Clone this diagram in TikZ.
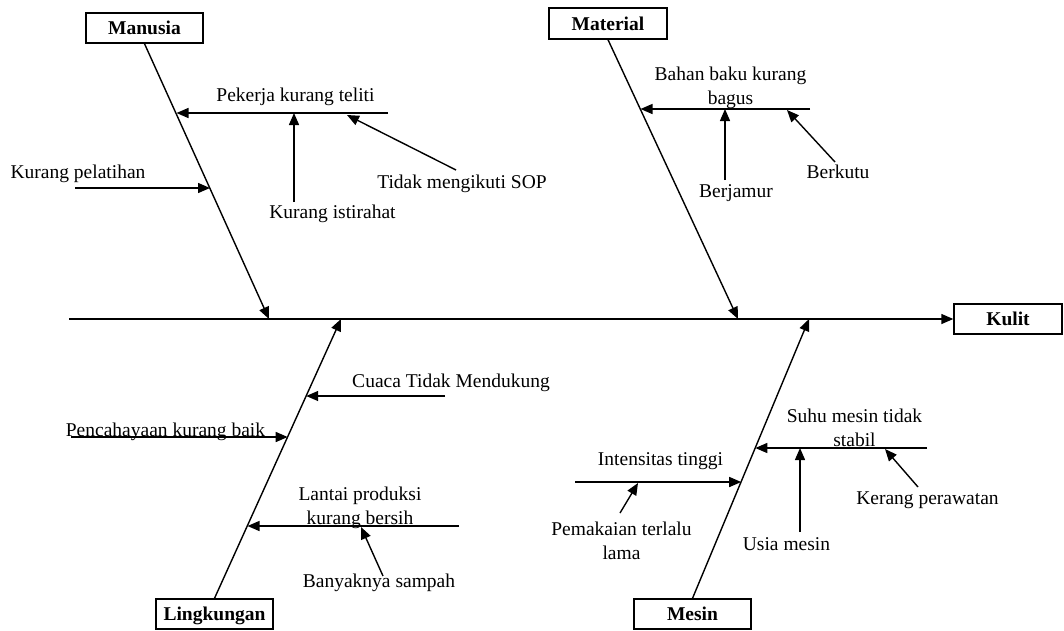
\documentclass[tikz,border=0pt]{standalone}
\usepackage{fontspec}
\setmainfont{Liberation Serif}
\usetikzlibrary{arrows.meta}
\begin{document}
\begin{tikzpicture}[x=1pt,y=-1pt,
  arr/.style={line width=1.4pt, -{Triangle[length=12pt,width=10pt]}},
  lbl/.style={font=\fontsize{19.5}{23.5}\selectfont, inner sep=0pt, anchor=base, align=center},
  cat/.style={draw, line width=1.4pt, font=\fontsize{19.5}{23.5}\selectfont\bfseries,
    minimum width=117pt, minimum height=30pt, inner sep=0pt, text height=14pt, text depth=1pt}]
\useasboundingbox (0,0) rectangle (1064,630);

% category boxes
\node[cat] (manusia) at (144.5,28) {Manusia};
\node[cat, minimum width=118pt, minimum height=31pt] (material) at (608,23.5) {Material};
\node[cat] (lingkungan) at (214.5,614) {Lingkungan};
\node[cat] (mesin) at (692.5,614) {Mesin};
\node[cat, minimum width=108pt] (kulit) at (1008,319) {Kulit};

% spine
\coordinate (s0) at (69,319);
\draw[arr] (s0) -- (kulit.west);

% bones
\coordinate (mT) at (269,319);
\coordinate (matT) at (738,319);
\coordinate (lT) at (341,319);
\coordinate (meT) at (809,319);
\draw[arr] (manusia.south) -- (mT);
\draw[arr] (material.south) -- (matT);
\draw[arr] (lingkungan.north) -- (lT);
\draw[arr] (mesin.north) -- (meT);

% Manusia causes
\coordinate (pk0) at (388,113); \coordinate (pk1) at (176.5,113);
\draw[arr] (pk0) -- (pk1);
\node[lbl] (pk) at (295.5,101) {Pekerja kurang teliti};
\coordinate (kp0) at (75,188); \coordinate (kp1) at (210,188);
\draw[arr] (kp0) -- (kp1);
\node[lbl] (kp) at (78,178) {Kurang pelatihan};
\coordinate (ki0) at (294,202); \coordinate (ki1) at (294,113);
\draw[arr] (ki0) -- (ki1);
\node[lbl] (ki) at (332.5,218) {Kurang istirahat};
\coordinate (ts0) at (456,170); \coordinate (ts1) at (347,115);
\draw[arr] (ts0) -- (ts1);
\node[lbl] (ts) at (462,188) {Tidak mengikuti SOP};

% Material causes
\coordinate (bb0) at (810,109); \coordinate (bb1) at (640.5,109);
\draw[arr] (bb0) -- (bb1);
\node[lbl] (bb) at (730.5,104) {Bahan baku kurang\\bagus};
\coordinate (bj0) at (725,180); \coordinate (bj1) at (725,109);
\draw[arr] (bj0) -- (bj1);
\node[lbl] (bj) at (736,197) {Berjamur};
\coordinate (bk0) at (835,162); \coordinate (bk1) at (787,110);
\draw[arr] (bk0) -- (bk1);
\node[lbl] (bk) at (838,178) {Berkutu};

% Lingkungan causes
\coordinate (cu0) at (445,396); \coordinate (cu1) at (306.2,396);
\draw[arr] (cu0) -- (cu1);
\node[lbl] (cu) at (451,387) {Cuaca Tidak Mendukung};
\coordinate (pc0) at (71,437); \coordinate (pc1) at (287.7,437);
\draw[arr] (pc0) -- (pc1);
\node[lbl] (pc) at (165.5,436) {Pencahayaan kurang baik};
\coordinate (lp0) at (459,526); \coordinate (lp1) at (247.5,526);
\draw[arr] (lp0) -- (lp1);
\node[lbl] (lp) at (360,524) {Lantai produksi\\kurang bersih};
\coordinate (bs0) at (383,576); \coordinate (bs1) at (361,527);
\draw[arr] (bs0) -- (bs1);
\node[lbl] (bs) at (379,587) {Banyaknya sampah};

% Mesin causes
\coordinate (sm0) at (927,448); \coordinate (sm1) at (755.3,448);
\draw[arr] (sm0) -- (sm1);
\node[lbl] (sm) at (854.5,446) {Suhu mesin tidak\\stabil};
\coordinate (um0) at (800,532); \coordinate (um1) at (800,448);
\draw[arr] (um0) -- (um1);
\node[lbl] (um) at (786.5,550) {Usia mesin};
\coordinate (kr0) at (918,487); \coordinate (kr1) at (885,449);
\draw[arr] (kr0) -- (kr1);
\node[lbl] (kr) at (927.5,504) {Kerang perawatan};
\coordinate (it0) at (575,482); \coordinate (it1) at (741.2,482);
\draw[arr] (it0) -- (it1);
\node[lbl] (it) at (660.5,465) {Intensitas tinggi};
\coordinate (pt0) at (620,513); \coordinate (pt1) at (638,483);
\draw[arr] (pt0) -- (pt1);
\node[lbl] (pt) at (621.5,559) {Pemakaian terlalu\\lama};
\end{tikzpicture}
\end{document}
